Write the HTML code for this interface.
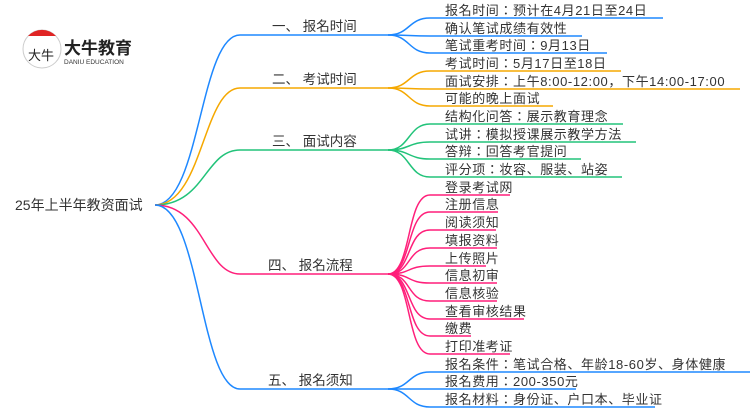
<!DOCTYPE html>
<html><head><meta charset="utf-8"><style>
html,body{margin:0;padding:0;background:#fff;}
svg{display:block;}
text{font-family:"Liberation Sans","Noto Sans CJK JP",sans-serif;font-size:13px;fill:#333;}
.l{letter-spacing:0.6px;}
</style></head><body>
<svg width="750" height="410" viewBox="0 0 750 410" xmlns="http://www.w3.org/2000/svg">
<g fill="none" stroke-width="1.5">
<path d="M155,205 C200,205 200,35 240,35 L388,35" stroke="#1e88ff"/>
<path d="M155,205 C203,205 203,88 240,88 L388,88" stroke="#f5a800"/>
<path d="M155,205 C205,205 205,150 240,150 L388,150" stroke="#22c37a"/>
<path d="M155,205 C205,205 205,274 240,274 L388,274" stroke="#ff1f7a"/>
<path d="M155,205 C200,205 200,389 240,389 L388,389" stroke="#1e88ff"/>
<g stroke="#1e88ff">
<path d="M388,35 C410,35 408,18 430,18 L663,18"/>
<path d="M388,35 C410,35 408,36 430,36 L582,36"/>
<path d="M388,35 C410,35 408,53 430,53 L607,53"/>
</g>
<g stroke="#f5a800">
<path d="M388,88 C410,88 408,71 430,71 L621,71"/>
<path d="M388,88 C410,88 408,89 430,89 L740,89"/>
<path d="M388,88 C410,88 408,106 430,106 L553,106"/>
</g>
<g stroke="#22c37a">
<path d="M388,150 C410,150 408,124 430,124 L623,124"/>
<path d="M388,150 C410,150 408,142 430,142 L636,142"/>
<path d="M388,150 C410,150 408,159 430,159 L581,159"/>
<path d="M388,150 C410,150 408,177 430,177 L622,177"/>
</g>
<g stroke="#ff1f7a">
<path d="M388,274 C412,274 406,195 430,195 L510,195"/>
<path d="M388,274 C412,274 406,212 430,212 L498,212"/>
<path d="M388,274 C412,274 406,230 430,230 L496,230"/>
<path d="M388,274 C412,274 406,248 430,248 L497,248"/>
<path d="M388,274 C412,274 406,266 430,266 L486,266"/>
<path d="M388,274 C412,274 406,283 430,283 L497,283"/>
<path d="M388,274 C412,274 406,301 430,301 L497,301"/>
<path d="M388,274 C412,274 406,319 430,319 L524,319"/>
<path d="M388,274 C412,274 406,336 430,336 L471,336"/>
<path d="M388,274 C412,274 406,354 430,354 L510,354"/>
</g>
<g stroke="#1e88ff">
<path d="M388,389 C410,389 408,372 430,372 L750,372"/>
<path d="M388,389 C410,389 408,389 430,389 L576,389"/>
<path d="M388,389 C410,389 408,407 430,407 L655,407"/>
</g>
</g>
<circle cx="42" cy="49" r="19" fill="#fff" stroke="#ccc" stroke-width="1"/>
<path d="M28,36 A19,19 0 0 1 56,36 Z" fill="#e02424"/>
<text x="28" y="60" style="font-size:13px;fill:#222">大牛</text>
<text x="64" y="54" style="font-size:17px;font-weight:bold;fill:#222">大牛教育</text>
<text x="64" y="64" style="font-size:6.5px;fill:#333">DANIU EDUCATION</text>
<text x="15" y="210" style="font-size:14px">25年上半年教资面试</text>
<text x="272" y="31" style="font-size:13.5px">一、 报名时间</text>
<text x="272" y="84" style="font-size:13.5px">二、 考试时间</text>
<text x="272" y="146" style="font-size:13.5px">三、 面试内容</text>
<text x="268" y="270" style="font-size:13.5px">四、 报名流程</text>
<text x="268" y="385" style="font-size:13.5px">五、 报名须知</text>
<g class="l">
<text x="445" y="15">报名时间：预计在4月21日至24日</text>
<text x="445" y="33">确认笔试成绩有效性</text>
<text x="445" y="50">笔试重考时间：9月13日</text>
<text x="445" y="68">考试时间：5月17日至18日</text>
<text x="445" y="86">面试安排：上午8:00-12:00，下午14:00-17:00</text>
<text x="445" y="103">可能的晚上面试</text>
<text x="445" y="121">结构化问答：展示教育理念</text>
<text x="445" y="139">试讲：模拟授课展示教学方法</text>
<text x="445" y="156">答辩：回答考官提问</text>
<text x="445" y="174">评分项：妆容、服装、站姿</text>
<text x="445" y="192">登录考试网</text>
<text x="445" y="209">注册信息</text>
<text x="445" y="227">阅读须知</text>
<text x="445" y="245">填报资料</text>
<text x="445" y="263">上传照片</text>
<text x="445" y="280">信息初审</text>
<text x="445" y="298">信息核验</text>
<text x="445" y="316">查看审核结果</text>
<text x="445" y="333">缴费</text>
<text x="445" y="351">打印准考证</text>
<text x="445" y="369">报名条件：笔试合格、年龄18-60岁、身体健康</text>
<text x="445" y="386">报名费用：200-350元</text>
<text x="445" y="404">报名材料：身份证、户口本、毕业证</text>
</g>
</svg>
</body></html>
